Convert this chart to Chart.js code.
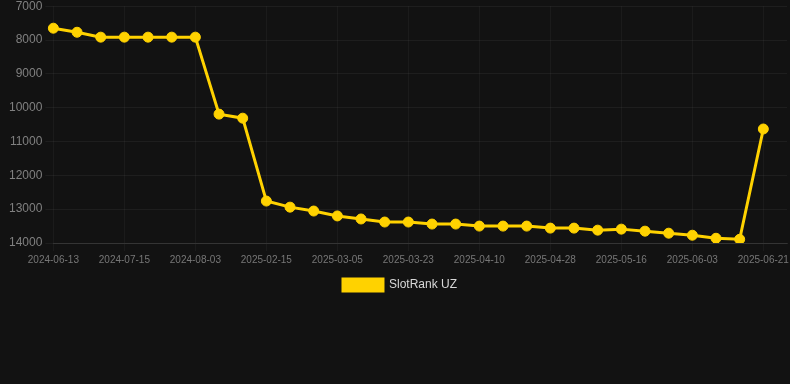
<!DOCTYPE html>
<html>
<head>
<meta charset="utf-8">
<script src="https://cdn.jsdelivr.net/npm/chart.js@4"></script>
<style>
    html, body { margin: 0; padding: 0; background: #121212; overflow: hidden; }
    #wrap { width: 794px; height: 305px; margin-top: -4px; }
</style>
</head>
<body>
<div id="wrap"><canvas id="myChart"></canvas></div>
<script>
const dates = [
    '2024-06-13', '2024-06-24', '2024-07-04', '2024-07-15', '2024-07-21', '2024-07-27',
    '2024-08-03', '2024-08-09', '2024-08-15', '2025-02-15', '2025-02-21', '2025-02-27',
    '2025-03-05', '2025-03-11', '2025-03-17', '2025-03-23', '2025-03-29', '2025-04-04',
    '2025-04-10', '2025-04-16', '2025-04-22', '2025-04-28', '2025-05-04', '2025-05-10',
    '2025-05-16', '2025-05-22', '2025-05-28', '2025-06-03', '2025-06-09', '2025-06-15',
    '2025-06-21', '2025-06-27'
];

const ranks = [
    7650, 7770, 7915, 7915, 7915, 7915,
    7915, 10190, 10310, 12760, 12940, 13055,
    13200, 13290, 13380, 13380, 13440, 13440,
    13500, 13500, 13500, 13560, 13560, 13620,
    13590, 13650, 13710, 13770, 13860, 13890,
    10630, null
];

const yTicks = [7000, 8000, 9000, 10000, 11000, 12000, 13000, 14000];

const ctx = document.getElementById('myChart');
const fontFam = 'Arial, "Liberation Sans", sans-serif';

let myChart = new Chart(ctx, {
    type: 'line',
    data: {
        labels: dates,
        datasets: [{
            label: 'SlotRank UZ',
            data: ranks,
            borderColor: '#FFD200',
            backgroundColor: '#FFD200',
            borderWidth: 3,
            pointRadius: 5,
            pointBorderWidth: 1,
            pointHoverRadius: 6,
            tension: 0
        }]
    },
    options: {
        responsive: true,
        maintainAspectRatio: false,
        animation: false,
        layout: { padding: { left: 6, right: 0 } },
        plugins: {
            legend: {
                position: 'bottom',
                labels: {
                    color: '#d8d8d8',
                    boxWidth: 40,
                    boxHeight: 12,
                    font: { family: fontFam, size: 12 }
                }
            },
            tooltip: { enabled: false }
        },
        scales: {
            x: {
                grid: { color: 'rgba(255,255,255,0.04)' },
                border: { color: 'rgba(255,255,255,0.1)' },
                ticks: {
                    color: '#777',
                    maxRotation: 0,
                    autoSkip: true,
                    font: { family: fontFam, size: 10 }
                }
            },
            y: {
                reverse: true,
                min: 7000,
                max: 14000,
                afterBuildTicks: (axis) => {
                    axis.ticks = yTicks.map(v => ({ value: v }));
                },
                grid: { color: 'rgba(255,255,255,0.05)' },
                border: { display: false },
                ticks: {
                    color: '#808080',
                    font: { family: fontFam, size: 12 },
                    callback: (v) => String(v)
                }
            }
        }
    }
});
</script>
</body>
</html>
